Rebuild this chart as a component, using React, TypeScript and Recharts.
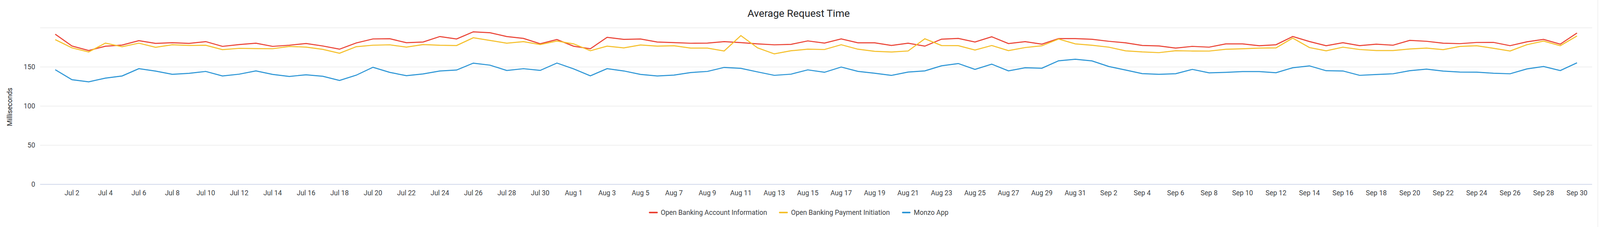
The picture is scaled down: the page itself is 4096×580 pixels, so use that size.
import { LineChart, Line, XAxis, YAxis, CartesianGrid, Legend } from 'recharts';

// day labels Jul 1 .. Sep 30
const MONTHS: [string, number][] = [['Jul', 31], ['Aug', 31], ['Sep', 30]];
const dates: string[] = [];
MONTHS.forEach(([m, n]) => {
  for (let d = 1; d <= n; d++) dates.push(`${m} ${d}`);
});

const accountInfo = [
  191.9, 176.8, 171.0, 176.5, 178.0, 183.6, 180.1, 181.0, 180.1, 182.4,
  176.3, 178.6, 180.4, 176.3, 177.8, 180.0, 176.8, 172.7, 180.7, 185.8,
  186.1, 181.0, 181.9, 188.9, 185.8, 194.9, 193.7, 188.9, 186.5, 179.6,
  185.1, 176.5, 173.3, 187.8, 185.2, 185.7, 181.9, 181.1, 180.3, 180.5,
  182.4, 181.1, 179.5, 178.3, 178.9, 183.3, 180.5, 185.8, 180.9, 180.9,
  177.5, 180.4, 176.6, 185.5, 186.5, 181.9, 188.6, 179.9, 182.4, 179.1,
  186.3, 186.2, 185.4, 182.8, 180.9, 177.5, 176.9, 174.1, 176.3, 175.3,
  179.5, 179.5, 177.1, 178.4, 188.9, 182.5, 177.1, 181.0, 177.2, 179.1,
  177.8, 184.0, 182.8, 180.4, 179.8, 181.3, 181.4, 177.2, 182.1, 185.2,
  179.1, 193.4,
];

const paymentInit = [
  184.9, 174.4, 169.2, 180.5, 175.9, 180.4, 175.1, 178.4, 177.5, 177.7,
  172.1, 173.8, 173.5, 173.3, 176.2, 175.4, 172.5, 167.5, 175.9, 177.8,
  178.3, 175.4, 178.6, 177.7, 177.4, 187.3, 183.9, 180.4, 182.4, 178.6,
  183.1, 179.5, 170.7, 176.6, 174.4, 178.1, 176.6, 177.1, 174.1, 174.1,
  170.4, 190.1, 174.4, 166.7, 170.7, 172.7, 172.3, 178.4, 172.7, 170.0,
  169.1, 170.4, 186.0, 177.4, 177.2, 171.6, 177.4, 170.9, 174.8, 177.1,
  185.7, 179.5, 177.7, 175.3, 170.6, 169.2, 168.3, 170.7, 170.4, 170.3,
  172.6, 173.2, 174.1, 174.4, 186.9, 174.8, 170.6, 175.3, 172.3, 171.0,
  171.0, 173.0, 174.1, 172.1, 176.2, 177.1, 173.9, 170.4, 178.4, 183.1,
  177.2, 189.6,
];

const monzoApp = [
  146.5, 133.7, 131.0, 135.7, 138.5, 147.8, 144.7, 140.6, 141.9, 144.3,
  138.5, 140.8, 145.0, 140.5, 137.9, 140.0, 138.1, 132.8, 139.5, 149.6,
  143.1, 138.9, 141.1, 144.9, 146.1, 154.9, 152.3, 145.5, 147.8, 145.6,
  155.0, 147.5, 138.7, 147.8, 144.9, 140.5, 138.5, 139.6, 142.9, 144.3,
  149.4, 148.2, 143.7, 139.3, 140.8, 146.3, 143.2, 149.9, 144.4, 142.0,
  139.2, 143.5, 145.0, 151.5, 154.4, 146.9, 153.6, 145.0, 149.0, 148.4,
  157.9, 159.9, 157.7, 150.6, 146.1, 141.5, 140.6, 141.4, 146.9, 142.5,
  143.1, 144.1, 144.1, 142.6, 149.0, 151.4, 145.2, 144.9, 139.3, 140.4,
  141.3, 145.2, 147.2, 144.7, 143.5, 143.4, 142.0, 141.3, 147.5, 150.6,
  145.4, 155.3,
];

const yTicks = [0, 50, 100, 150];
const xTicks = dates.filter((_, i) => i % 2 === 1);

const SERIES = [
  { key: 'ais', name: 'Open Banking Account Information', color: '#EA4335' },
  { key: 'pis', name: 'Open Banking Payment Initiation', color: '#F5C02C' },
  { key: 'app', name: 'Monzo App', color: '#2D96D6' },
];

const data = dates.map((date, i) => ({
  date,
  ais: accountInfo[i],
  pis: paymentInit[i],
  app: monzoApp[i],
}));

const FONT = 'Roboto, sans-serif';
const tickStyle = { fontFamily: FONT, fontSize: 17.5, fill: '#3c4043' };

function LegendContent() {
  return (
    <div style={{ display: 'flex', justifyContent: 'center', alignItems: 'center', height: 30, fontFamily: FONT, fontSize: 17.5, color: '#3c4043' }}>
      {SERIES.map((s) => (
        <div key={s.key} style={{ display: 'flex', alignItems: 'center', margin: '0 15.4px' }}>
          <span style={{ display: 'inline-block', width: 22.7, height: 3.6, borderRadius: 2, background: s.color, marginRight: 7.9 }} />
          <span>{s.name}</span>
        </div>
      ))}
    </div>
  );
}

export default function App() {
  return (
    <div style={{ position: 'absolute', left: 0, top: 0, width: 4096, height: 580, background: '#fff' }}>
      <div
        style={{
          position: 'absolute', left: 0, top: 20.7, width: 4089, textAlign: 'center',
          fontFamily: FONT, fontSize: 26.3, lineHeight: 1, color: '#202124',
        }}
      >
        Average Request Time
      </div>
      <div style={{ position: 'absolute', left: 4089.5, top: 0, width: 1.5, height: 580, background: '#e6e6e6' }} />
      <LineChart width={4096} height={580} data={data} margin={{ top: 71.1, right: 20.2, left: 0, bottom: 28.9 }}>
        <CartesianGrid vertical={false} stroke="#e6e6e6" strokeWidth={1.4} />
        <XAxis
          dataKey="date"
          ticks={xTicks}
          interval={0}
          height={50}
          padding={{ left: 38.7, right: 38.7 }}
          tickLine={false}
          tickSize={0}
          tickMargin={15.3}
          axisLine={{ stroke: '#c8d2ea', strokeWidth: 1.5 }}
          tick={tickStyle}
        />
        <YAxis
          width={102.7}
          domain={[0, 200]}
          ticks={yTicks}
          interval={0}
          tickLine={false}
          tickSize={0}
          tickMargin={12.7}
          axisLine={false}
          tick={tickStyle}
          label={{
            content: (props: any) => {
              const vb = props.viewBox || { y: 71.1, height: 400 };
              const cy = vb.y + vb.height / 2 + 2;
              return (
                <text
                  x={24.8}
                  y={cy}
                  transform={`rotate(-90 24.8 ${cy})`}
                  textAnchor="middle"
                  dominantBaseline="central"
                  style={{ fontFamily: FONT, fontSize: 17.5, fill: '#202124' }}
                >
                  Milliseconds
                </text>
              );
            },
          }}
        />
        <Legend
          verticalAlign="bottom"
          content={<LegendContent />}
          wrapperStyle={{ top: 528, left: 0, width: 4089, height: 30 }}
        />
        {SERIES.map((s) => (
          <Line
            key={s.key}
            type="linear"
            dataKey={s.key}
            name={s.name}
            stroke={s.color}
            strokeWidth={2.7}
            dot={false}
            activeDot={false}
            isAnimationActive={false}
          />
        ))}
      </LineChart>
    </div>
  );
}
